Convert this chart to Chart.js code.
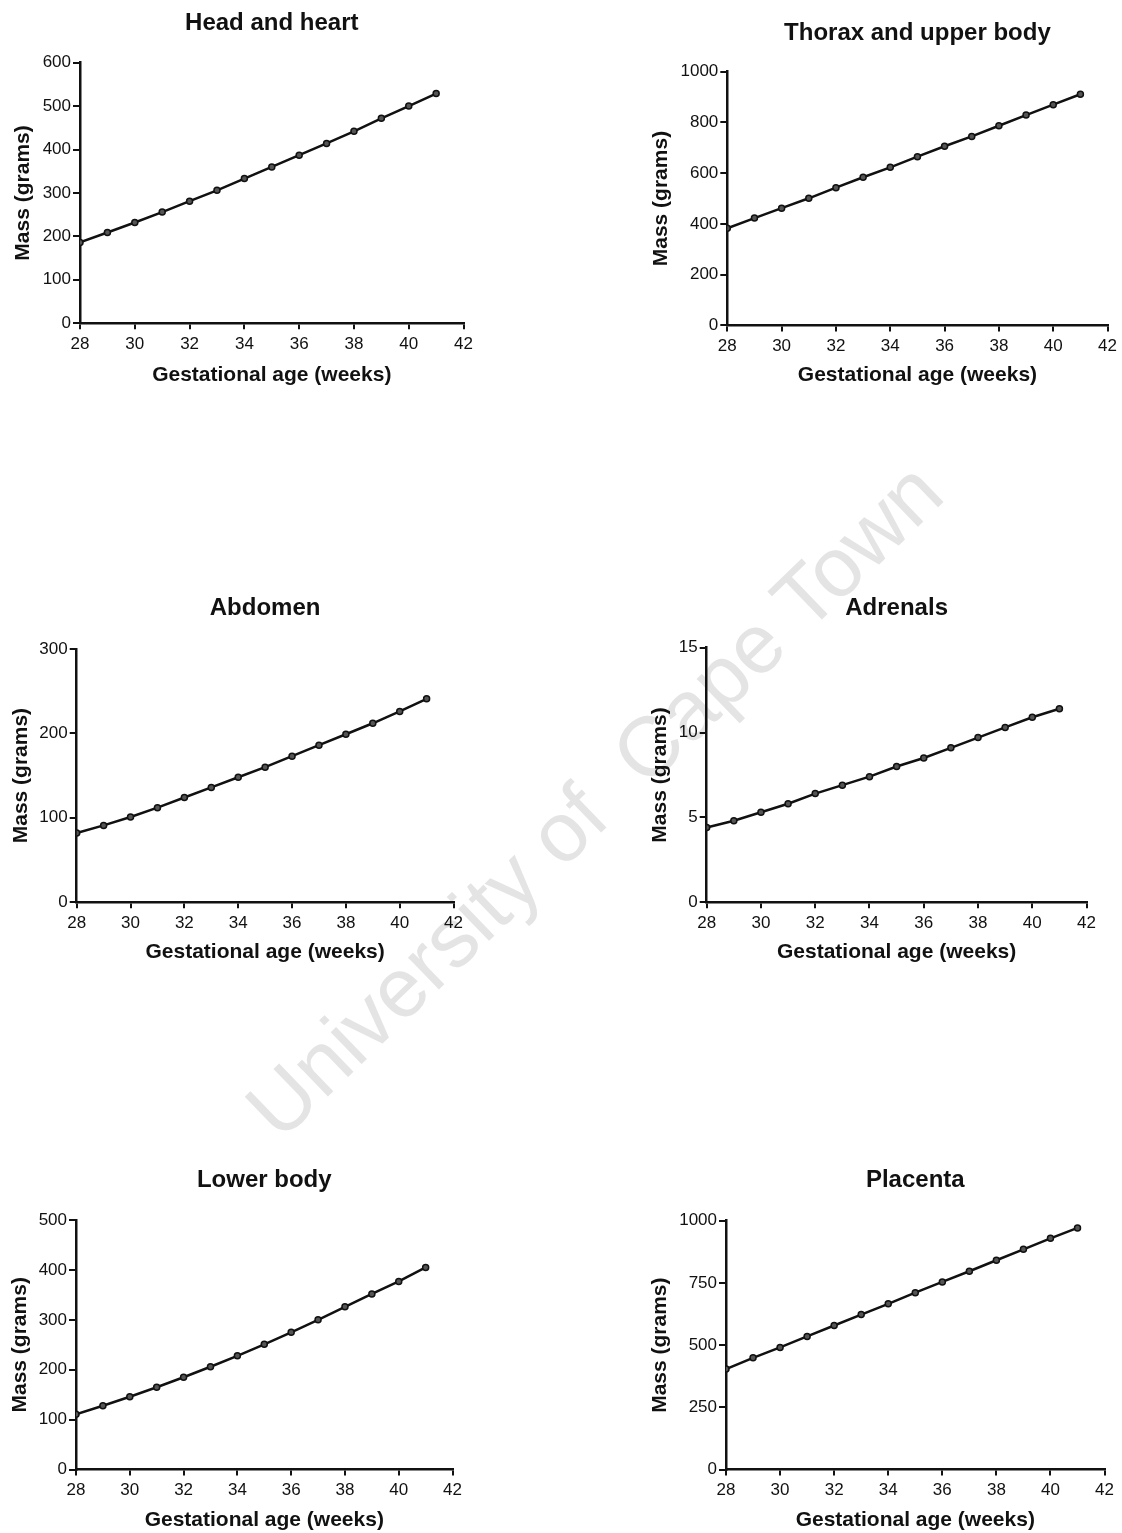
<!DOCTYPE html>
<html>
<head>
<meta charset="utf-8">
<title>Fetal segment mass by gestational age</title>
<script src="https://cdn.jsdelivr.net/npm/chart.js@4.4.0/dist/chart.umd.min.js"></script>
<style>
  html, body { margin: 0; padding: 0; background: #fff; }
  body { width: 1122px; height: 1533px; position: relative; overflow: hidden; }
  canvas { position: absolute; z-index: 1; }
  .watermark {
    position: absolute; left: 594px; top: 800px; z-index: 0;
    font: 84px "Liberation Sans", Arial, sans-serif; color: #e4e4e4;
    white-space: pre; transform: translate(-50%, -50%) rotate(-44deg);
  }
</style>
</head>
<body>
<div class="watermark">University of  Cape Town</div>
<script>
// gestational age (weeks) for every panel
const weeks = [28, 29, 30, 31, 32, 33, 34, 35, 36, 37, 38, 39, 40, 41];

// mass in grams per body segment
const headHeart   = [186, 209, 232, 256, 281, 306, 333, 360, 387, 414, 442, 472, 500, 529];
const thoraxUpper = [383, 423, 462, 501, 543, 584, 623, 665, 706, 745, 787, 829, 870, 911];
const abdomen     = [82, 91, 101, 112, 124, 136, 148, 160, 173, 186, 199, 212, 226, 241];
const adrenals    = [4.4, 4.8, 5.3, 5.8, 6.4, 6.9, 7.4, 8.0, 8.5, 9.1, 9.7, 10.3, 10.9, 11.4];
const lowerBody   = [111, 128, 146, 165, 185, 206, 228, 251, 275, 300, 326, 352, 377, 405];
const placenta    = [404, 449, 491, 535, 579, 623, 666, 711, 754, 797, 841, 885, 929, 971];

const panelTitles = ['Head and heart', 'Thorax and upper body', 'Abdomen', 'Adrenals', 'Lower body', 'Placenta'];
const panelSeries = [headHeart, thoraxUpper, abdomen, adrenals, lowerBody, placenta];
const yMax  = [600, 1000, 300, 15, 500, 1000];
const yStep = [100, 200, 100, 5, 100, 250];

// where each panel sits on the page: plot box [left, top, right, bottom] and text centres
const layout = [
  { ox: 0,   oy: 0,    plot: [80, 62.7, 464, 323.3],      titleY: 23.3,   yTitleX: 23.3,  xTitleY: 375.5 },
  { ox: 640, oy: 0,    plot: [727.3, 71.7, 1107.7, 325.7], titleY: 33.3,   yTitleX: 661.7, xTitleY: 375.7 },
  { ox: 0,   oy: 590,  plot: [76.7, 649, 454.3, 902.3],   titleY: 608.3,  yTitleX: 21.7,  xTitleY: 952.5 },
  { ox: 640, oy: 590,  plot: [706.7, 647.7, 1086.7, 902.3], titleY: 608.3, yTitleX: 660,  xTitleY: 952.5 },
  { ox: 0,   oy: 1160, plot: [76, 1220, 452.7, 1470],     titleY: 1180.8, yTitleX: 20,    xTitleY: 1520.8 },
  { ox: 640, oy: 1160, plot: [726, 1220.7, 1105, 1470],   titleY: 1180.8, yTitleX: 660,   xTitleY: 1520.8 }
];

const FONT = '"Liberation Sans", Arial, sans-serif';
const INK = '#111';
const TITLE_SIZE = 24, AXIS_TITLE_SIZE = 21, TICK_SIZE = 17;
const PAD_RIGHT = 14;

// plain integers on the axes, no thousands separator
const plainTick = (value) => String(value);

panelSeries.forEach((values, i) => {
  const L = layout[i];
  const [pl, pt, pr, pb] = L.plot;
  const halfTitle = TITLE_SIZE * 1.2 / 2;
  const halfAxisTitle = AXIS_TITLE_SIZE * 1.2 / 2;

  const width = Math.round(pr + PAD_RIGHT - L.ox);
  const height = Math.round(L.xTitleY + halfAxisTitle - L.oy) + 2;
  const padLeft = L.yTitleX - halfAxisTitle - L.ox;
  const yAxisWidth = pl - (L.yTitleX - halfAxisTitle);
  const xAxisHeight = L.xTitleY + halfAxisTitle - pb;

  const canvas = document.createElement('canvas');
  canvas.width = width;
  canvas.height = height;
  canvas.style.left = L.ox + 'px';
  canvas.style.top = L.oy + 'px';
  document.body.appendChild(canvas);

  new Chart(canvas.getContext('2d'), {
    type: 'line',
    data: {
      datasets: [{
        data: weeks.map((w, k) => ({ x: w, y: values[k] })),
        borderColor: INK,
        borderWidth: 2.5,
        pointRadius: 3,
        pointBackgroundColor: '#555',
        pointBorderColor: INK,
        pointBorderWidth: 1.5,
        tension: 0
      }]
    },
    options: {
      responsive: false,
      animation: false,
      devicePixelRatio: 1,
      layout: { padding: { left: padLeft, right: PAD_RIGHT, top: 0, bottom: 2 } },
      plugins: {
        legend: { display: false },
        tooltip: { enabled: false },
        title: {
          display: true,
          text: panelTitles[i],
          fullSize: false,
          color: INK,
          font: { family: FONT, size: TITLE_SIZE, weight: 'bold' },
          padding: { top: L.titleY - halfTitle - L.oy, bottom: pt - (L.titleY + halfTitle) }
        }
      },
      scales: {
        x: {
          type: 'linear',
          min: 28,
          max: 42,
          ticks: { stepSize: 2, color: INK, padding: 5, maxRotation: 0, callback: plainTick, font: { family: FONT, size: TICK_SIZE } },
          grid: { drawOnChartArea: false, drawTicks: true, tickLength: 6, color: INK, lineWidth: 2 },
          border: { display: true, color: INK, width: 2.5 },
          title: {
            display: true,
            text: 'Gestational age (weeks)',
            color: INK,
            padding: 0,
            font: { family: FONT, size: AXIS_TITLE_SIZE, weight: 'bold' }
          },
          afterFit: (scale) => { scale.height = xAxisHeight; }
        },
        y: {
          min: 0,
          max: yMax[i],
          ticks: { stepSize: yStep[i], color: INK, padding: 2, callback: plainTick, font: { family: FONT, size: TICK_SIZE } },
          grid: { drawOnChartArea: false, drawTicks: true, tickLength: 7, color: INK, lineWidth: 2 },
          border: { display: true, color: INK, width: 2.5 },
          title: {
            display: true,
            text: 'Mass (grams)',
            color: INK,
            padding: 0,
            font: { family: FONT, size: AXIS_TITLE_SIZE, weight: 'bold' }
          },
          afterFit: (scale) => { scale.width = yAxisWidth; }
        }
      }
    }
  });
});
</script>
</body>
</html>
